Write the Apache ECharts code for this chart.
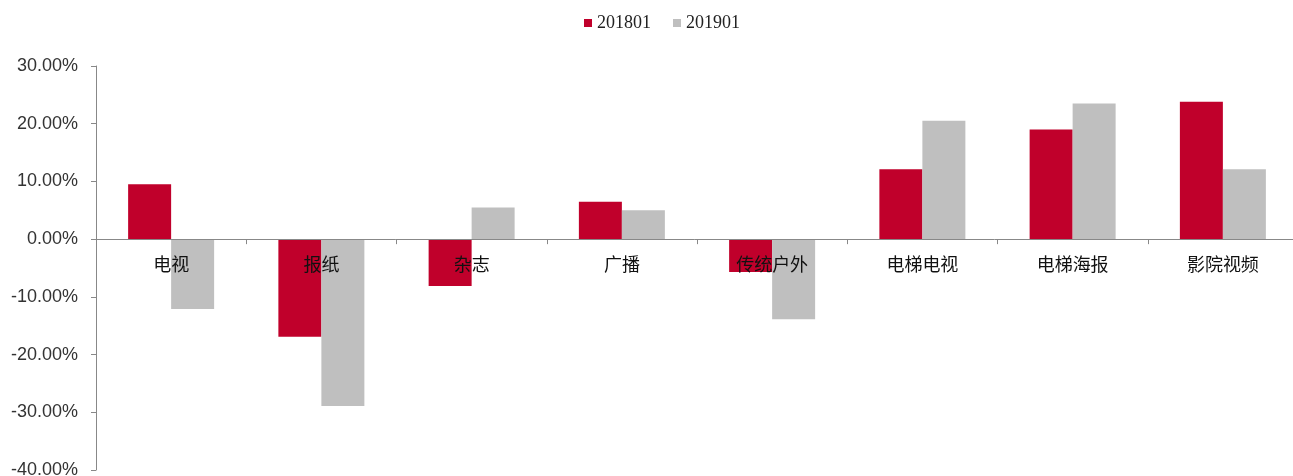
<!DOCTYPE html>
<html>
<head>
<meta charset="utf-8">
<script src="https://cdn.jsdelivr.net/npm/echarts@6/dist/echarts.min.js"></script>
<style>
  html, body { margin: 0; padding: 0; background: #fff; }
  #chart { width: 1293px; height: 476px; }
</style>
</head>
<body>
<div id="chart"></div>
<script>
let categories = ['电视', '报纸', '杂志', '广播', '传统户外', '电梯电视', '电梯海报', '影院视频'];
let seriesNames = ['201801', '201901'];
let val2018 = [9.5, -16.9, -8.1, 6.5, -5.7, 12.1, 19.0, 23.8];
let val2019 = [-12.1, -28.9, 5.5, 5.0, -13.9, 20.5, 23.5, 12.1];

let myChart = echarts.init(document.getElementById('chart'));

option = {
  animation: false,
  legend: {
    top: 9,
    left: 579,
    itemWidth: 8,
    itemHeight: 8,
    itemGap: 22,
    icon: 'rect',
    textStyle: {
      fontFamily: 'Liberation Serif',
      fontSize: 18,
      color: '#222'
    },
    data: seriesNames
  },
  grid: {
    left: 96,
    right: -5,
    top: 66,
    bottom: 6,
    containLabel: false,
    outerBoundsMode: 'none'
  },
  xAxis: {
    type: 'category',
    data: categories,
    z: 5,
    axisLine: {
      onZero: true,
      lineStyle: { color: '#888', width: 1 }
    },
    axisTick: {
      show: true,
      length: 5,
      inside: false,
      lineStyle: { color: '#888' }
    },
    axisLabel: {
      // labels sit under the zero line, on top of the bars
      margin: -215,
      color: '#111',
      fontSize: 18,
      fontFamily: 'Noto Sans CJK SC'
    }
  },
  yAxis: {
    type: 'value',
    min: -40,
    max: 30,
    interval: 10,
    splitLine: { show: false },
    axisLine: {
      show: true,
      lineStyle: { color: '#888', width: 1 }
    },
    axisTick: {
      show: true,
      length: 5,
      lineStyle: { color: '#888' }
    },
    axisLabel: {
      margin: 18,
      color: '#333',
      fontSize: 18,
      fontFamily: 'Liberation Sans',
      formatter: function(v) {
        return v.toFixed(2) + '%';
      }
    }
  },
  series: [
    {
      name: seriesNames[0],
      type: 'bar',
      barWidth: 43,
      barGap: '0%',
      itemStyle: { color: '#C0002B' },
      data: val2018
    },
    {
      name: seriesNames[1],
      type: 'bar',
      barWidth: 43,
      barGap: '0%',
      itemStyle: { color: '#BFBFBF' },
      data: val2019
    }
  ]
};

myChart.setOption(option);
</script>
</body>
</html>
